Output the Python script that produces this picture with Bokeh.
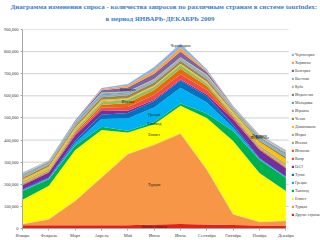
import numpy as np
from bokeh.plotting import figure
from bokeh.models import (ColumnDataSource, Range1d, FixedTicker, NumeralTickFormatter,
                          Legend, LegendItem, Title)
from bokeh.core.properties import value
from bokeh.embed import file_html
from bokeh.resources import INLINE

title1 = "Диаграмма изменения спроса - количества запросов по различным странам в системе tourindex:"
title2 = "в период ЯНВАРЬ-ДЕКАБРЬ 2009"

months = ["Январь", "Февраль", "Март", "Апрель", "Май", "Июнь", "Июль",
          "Сентябрь", "Октябрь", "Ноябрь", "Декабрь"]
yticks = [0, 100000, 200000, 300000, 400000, 500000, 600000, 700000, 800000, 900000]

# values in thousands of requests, stacking order bottom -> top
drugie      = [15, 15, 15, 15, 15, 18, 20, 18, 16, 14, 14]
turciya     = [5, 27, 110, 216, 322, 361, 410, 249, 49, 16, 21]
egipet      = [110, 151, 230, 214, 97, 93, 125, 233, 331, 221, 135]
tailand     = [40, 30, 20, 15, 8, 10, 12, 20, 45, 60, 60]
greciya     = [3, 4, 12, 35, 55, 65, 70, 50, 15, 4, 3]
tunis       = [3, 4, 10, 20, 25, 30, 32, 28, 12, 3, 2]
oae         = [20, 22, 25, 20, 10, 5, 5, 8, 25, 38, 38]
kipr        = [2, 3, 6, 12, 18, 22, 24, 20, 8, 4, 3]
ispaniya    = [3, 4, 7, 12, 18, 22, 25, 18, 6, 3, 3]
italiya     = [4, 5, 8, 12, 14, 15, 16, 12, 6, 4, 5]
indiya      = [7, 6, 5, 4, 2, 2, 2, 3, 6, 9, 10]
dominikana  = [10, 9, 8, 7, 5, 4, 4, 5, 8, 15, 20]
chehiya     = [8, 8, 9, 12, 14, 13, 14, 12, 6, 7, 10]
izrail      = [6, 6, 7, 8, 8, 8, 8, 8, 6, 7, 8]
maldivy     = [5, 5, 5, 5, 4, 3, 3, 4, 4, 5, 6]
indoneziya  = [3, 3, 3, 3, 2, 2, 2, 3, 3, 4, 5]
kuba        = [3, 3, 3, 3, 2, 2, 2, 3, 3, 3, 4]
vetnam      = [3, 2, 2, 2, 1, 1, 1, 2, 3, 4, 5]
bolgariya   = [1, 1, 3, 10, 18, 24, 26, 12, 1, 1, 1]
horvatiya   = [1, 1, 1, 5, 8, 15, 17, 6, 1, 1, 1]
chernogoriya = [1, 0, 1, 5, 7, 15, 18, 6, 1, 1, 1]

names = ["Другие страны", "Турция", "Египет", "Таиланд", "Греция", "Тунис", "ОАЭ",
         "Кипр", "Испания", "Италия", "Индия", "Доминикана", "Чехия", "Израиль",
         "Мальдивы", "Индонезия", "Куба", "Вьетнам", "Болгария", "Хорватия", "Черногория"]
series = [drugie, turciya, egipet, tailand, greciya, tunis, oae, kipr, ispaniya, italiya,
          indiya, dominikana, chehiya, izrail, maldivy, indoneziya, kuba, vetnam,
          bolgariya, horvatiya, chernogoriya]
colors = ["#E3201B", "#F79646", "#FFFF00", "#00B050", "#00B0F0", "#0070C0", "#7030A0",
          "#F04B4B", "#E46C0A", "#9BBB59", "#B9A77E", "#FFC000", "#948A54", "#A5A5A5",
          "#4BACC6", "#7F7F7F", "#C4BD97", "#8EB4E3", "#8064A2", "#FFA040", "#8DB4E2"]

FONT = "Liberation Serif"
n_m = len(months)
plot_px = 266.0          # pixel width of the category span
frame_px = 320 - 19.0    # frame runs to the right edge, legend lives inside it
x_end = (n_m - 1) * frame_px / plot_px

data = {"x": list(range(n_m))}
for n, s in zip(names, series):
    data[n] = [v * 1000 for v in s]
source = ColumnDataSource(data)

p = figure(width=320, height=240, output_backend="svg", toolbar_location=None,
           x_range=Range1d(0, x_end), y_range=Range1d(0, 900000),
           min_border_left=19, min_border_right=0, min_border_top=29, min_border_bottom=12)
p.outline_line_color = None
p.background_fill_color = "white"

# horizontal grid lines limited to the plot area
grid_x1 = (n_m - 1) + 3 * (n_m - 1) / plot_px
p.segment(x0=[0] * len(yticks), x1=[grid_x1] * len(yticks), y0=yticks, y1=yticks,
          line_color="#D0D0D0", line_width=1)

renderers = p.varea_stack(stackers=names, x="x", color=colors, source=source)

# light border on top of the Turkey band
arr = np.array(series, dtype=float) * 1000
cum = np.cumsum(arr, axis=0)
p.line(data["x"], cum[1], line_color="#F3D58A", line_width=0.8)

# axes
p.xaxis.ticker = FixedTicker(ticks=data["x"])
p.xaxis.major_label_overrides = {i: m for i, m in enumerate(months)}
p.xaxis.bounds = (0, n_m - 1)
p.yaxis.ticker = FixedTicker(ticks=yticks)
p.yaxis.formatter = NumeralTickFormatter(format="0,0")
for ax in (p.xaxis, p.yaxis):
    ax.major_label_text_font = FONT
    ax.major_label_text_font_size = "4.5px"
    ax.major_label_text_color = "#404040"
    ax.axis_line_color = "#A6A6A6"
    ax.major_tick_line_color = "#A6A6A6"
    ax.major_tick_out = 2
    ax.major_tick_in = 0
    ax.minor_tick_line_color = None
    ax.major_label_standoff = 2
p.xgrid.grid_line_color = None
p.ygrid.grid_line_color = None

# data labels centred in their bands
lab_spec = [("Черногория", 6), ("Турция", 5), ("Египет", 5), ("Греция", 5),
            ("Таиланд", 5), ("Другие страны", 5), ("Италия", 4), ("Болгария", 4),
            ("Индонезия", 9), ("Куба", 9), ("Вьетнам", 9)]
lx, ly, lt = [], [], []
for n, idx in lab_spec:
    i = names.index(n)
    lx.append(idx)
    ly.append(cum[i][idx] - arr[i][idx] / 2)
    lt.append(n)
p.text(x=lx, y=ly, text=lt, text_font=value(FONT), text_font_size="4px",
       text_color="#202020", text_align="center", text_baseline="middle")

# legend (top of stack first), inside the frame on the right
items = [LegendItem(label=n, renderers=[r]) for n, r in zip(names, renderers)][::-1]
legend = Legend(items=items, location=(269, 10), label_text_font=FONT,
                label_text_font_size="3.9px", label_text_color="#404040",
                glyph_width=3, glyph_height=3, label_height=7, spacing=1,
                label_standoff=1, padding=0, margin=0,
                border_line_color=None, background_fill_alpha=0)
p.add_layout(legend)

# two-line title
p.add_layout(Title(text=title2, align="left", offset=83, text_font=FONT,
                   text_font_size="7px", text_font_style="bold", text_color="#3A7EC6",
                   standoff=9, vertical_align="top"), "above")
p.add_layout(Title(text=title1, align="left", offset=-12, text_font=FONT,
                   text_font_size="7px", text_font_style="bold", text_color="#3A7EC6",
                   standoff=0), "above")

open("out.html", "w").write(file_html(p, INLINE))
